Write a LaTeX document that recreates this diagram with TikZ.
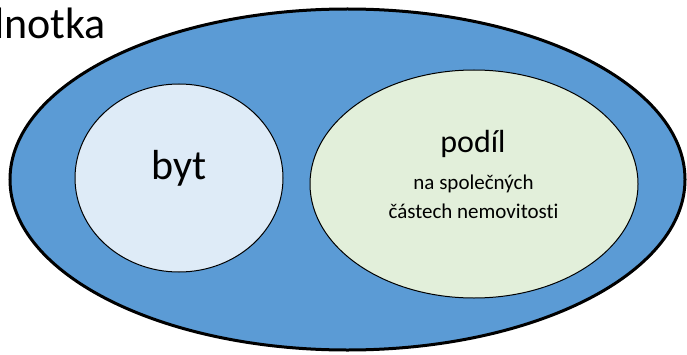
\documentclass[tikz,border=0pt]{standalone}
\usepackage{fontspec}
\setmainfont{Carlito}[Ligatures=NoCommon]
\usetikzlibrary{shapes.geometric}
\definecolor{unitblue}{HTML}{5B9BD5}
\definecolor{flatfill}{HTML}{DEEBF7}
\definecolor{sharefill}{HTML}{E2EFDA}
\tikzset{
  blob/.style={ellipse, draw=black, inner sep=0pt},
  title/.style={font=\fontsize{44}{44}\selectfont, inner sep=0pt},
  big/.style={inner sep=0pt},
}
\begin{document}
\begin{tikzpicture}[x=1pt,y=1pt]
\useasboundingbox (0,0) rectangle (687,354);
\clip (0,0) rectangle (687,354);
% outer unit
\node[blob, fill=unitblue, line width=3pt, minimum width=675pt, minimum height=341pt] (unit) at (347.5,174.5) {};
% flat
\node[blob, fill=flatfill, line width=1pt, minimum width=208pt, minimum height=188pt] (flat) at (179,176) {};
% share in common parts
\node[blob, fill=sharefill, line width=1pt, minimum width=328pt, minimum height=228pt] (share) at (474,170) {};
% labels
\node[title, anchor=base east] (tname) at (106,315) {Jednotka};
\node[big, anchor=base, font=\fontsize{42}{42}\selectfont] (flattext) at (179,175) {byt};
\node[big, anchor=base, font=\fontsize{32}{32}\selectfont] (sharetext) at (473,202) {podíl};
\node[big, anchor=base, font=\fontsize{21}{29}\selectfont, align=center] (sharesub) at (473.5,136) {na společných\\částech nemovitosti};
\end{tikzpicture}
\end{document}
